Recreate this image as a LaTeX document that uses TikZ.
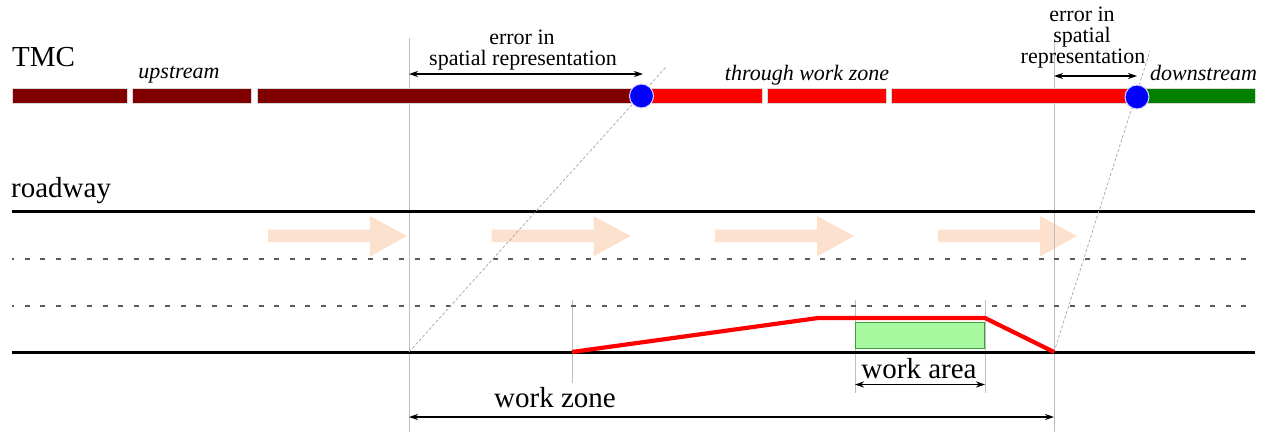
\documentclass[tikz,border=0pt]{standalone}
\usepackage{fontspec}
\setmainfont{Liberation Serif}
\usetikzlibrary{arrows.meta}
\definecolor{darkred}{HTML}{800000}
\definecolor{brightred}{HTML}{FF0000}
\definecolor{darkgreen}{HTML}{008000}
\definecolor{peach}{HTML}{FDE1CF}
\definecolor{lightgreen}{HTML}{A8F8A0}
\definecolor{edgegreen}{HTML}{3CA03C}
\definecolor{lanegray}{HTML}{5E5A5A}
\begin{document}
\begin{tikzpicture}[x=1pt,y=-1pt,
  bar/.style={draw=white!85!black, line width=0.5pt},
  vline/.style={draw=black!25, line width=1pt},
  diag/.style={draw=black!35, line width=0.7pt, dash pattern=on 3pt off 2pt},
  road/.style={draw=black, line width=2.4pt},
  lane/.style={draw=lanegray, line width=2.5pt, dash pattern=on 5pt off 10.6pt, dash phase=3pt},
  dim/.style={line width=1.2pt, {Stealth[length=9pt,width=6pt]}-{Stealth[length=9pt,width=6pt]}},
  flow/.style={fill=peach, draw=none},
  dot/.style={circle, fill=blue, draw=white!85!blue, line width=1pt, minimum size=24pt, inner sep=0pt},
  small/.style={font=\fontsize{22}{22}\selectfont, inner sep=0pt},
  smallit/.style={font=\fontsize{22}{22}\selectfont\itshape, inner sep=0pt},
  big/.style={font=\fontsize{29}{29}\selectfont, inner sep=0pt}
]
\useasboundingbox (0,0) rectangle (1270,432);

% ---- flow arrows (behind everything)
\foreach \x in {268,491.5,715,938}{
  \fill[flow] (\x,229.5) -- (\x+102,229.5) -- (\x+102,216) -- (\x+139,236) -- (\x+102,256.5) -- (\x+102,242) -- (\x,242) -- cycle;
}

% ---- key coordinates
\coordinate (wzs) at (409,352);
\coordinate (wze) at (1054,352);
\coordinate (tap) at (572,352);
\coordinate (bend) at (818,318);
\coordinate (wa1) at (855,318);
\coordinate (wa2) at (985,318);

% ---- vertical reference lines
\draw[vline] (409,38) -- (409,432);
\draw[vline] (1054,40) -- (1054,432);
\draw[vline] (572,300) -- (572,383);
\draw[vline] (855,300) -- (855,393);
\draw[vline] (985,300) -- (985,393);

% ---- roadway
\draw[road] (12,211.5) -- (1255,211.5);
\draw[road] (12,352.5) -- (1255,352.5);
\draw[lane] (12,259) -- (1255,259);
\draw[lane] (12,306) -- (1255,306);

% ---- TMC bars
\fill[darkred, bar] (12,88) rectangle (127,103);
\fill[darkred, bar] (132,88) rectangle (251,103);
\fill[darkred, bar] (257,88) rectangle (641,103);
\fill[brightred, bar] (641,88) rectangle (762,103);
\fill[brightred, bar] (767,88) rectangle (886,103);
\fill[brightred, bar] (891,88) rectangle (1137,103);
\fill[darkgreen, bar] (1137,88) rectangle (1255,103);

% ---- diagonal projection lines
\coordinate (d1top) at (666,67);
\coordinate (d2top) at (1150,51);
\draw[diag] (wzs) -- (d1top);
\draw[diag] (wze) -- (d2top);

% ---- TMC points
\node[dot] (p1) at (641.5,96) {};
\node[dot] (p2) at (1137,97) {};

% ---- work zone taper
\draw[brightred, line width=4.2pt, line join=round] (tap) -- (bend) -- (wa2) -- (wze);
\node[draw=edgegreen, fill=lightgreen, line width=1pt, inner sep=0pt,
      minimum width=129pt, minimum height=26pt] (area) at (920,335.5) {};

% ---- dimension arrows
\coordinate (e1a) at (409,74);
\coordinate (e1b) at (643,74);
\coordinate (e2a) at (1054,76);
\coordinate (e2b) at (1137,76);
\coordinate (waa) at (855,384.5);
\coordinate (wab) at (985,384.5);
\coordinate (wza) at (409,417);
\coordinate (wzb) at (1054,417);
\draw[dim] (e1a) -- (e1b);
\draw[dim] (e2a) -- (e2b);
\draw[dim] (waa) -- (wab);
\draw[dim] (wza) -- (wzb);

% ---- labels
\node[big, anchor=base west] (tmc) at (12,66) {TMC};
\node[big, anchor=base west] (roadway) at (11,197) {roadway};
\node[smallit, anchor=base] (up) at (179,78) {upstream};
\node[smallit, anchor=base] (thru) at (807,80) {through work zone};
\node[smallit, anchor=base west] (down) at (1150,80) {downstream};
\node[small, anchor=base] (err1a) at (522,44) {error in};
\node[small, anchor=base] (err1b) at (523,65) {spatial representation};
\node[small, anchor=base] (err2a) at (1082,21) {error in};
\node[small, anchor=base] (err2b) at (1082,42) {spatial};
\node[small, anchor=base] (err2c) at (1083,63) {representation};
\node[big, anchor=base] (wzlbl) at (555,407) {work zone};
\node[big, anchor=base] (walbl) at (919,378) {work area};
\end{tikzpicture}
\end{document}
